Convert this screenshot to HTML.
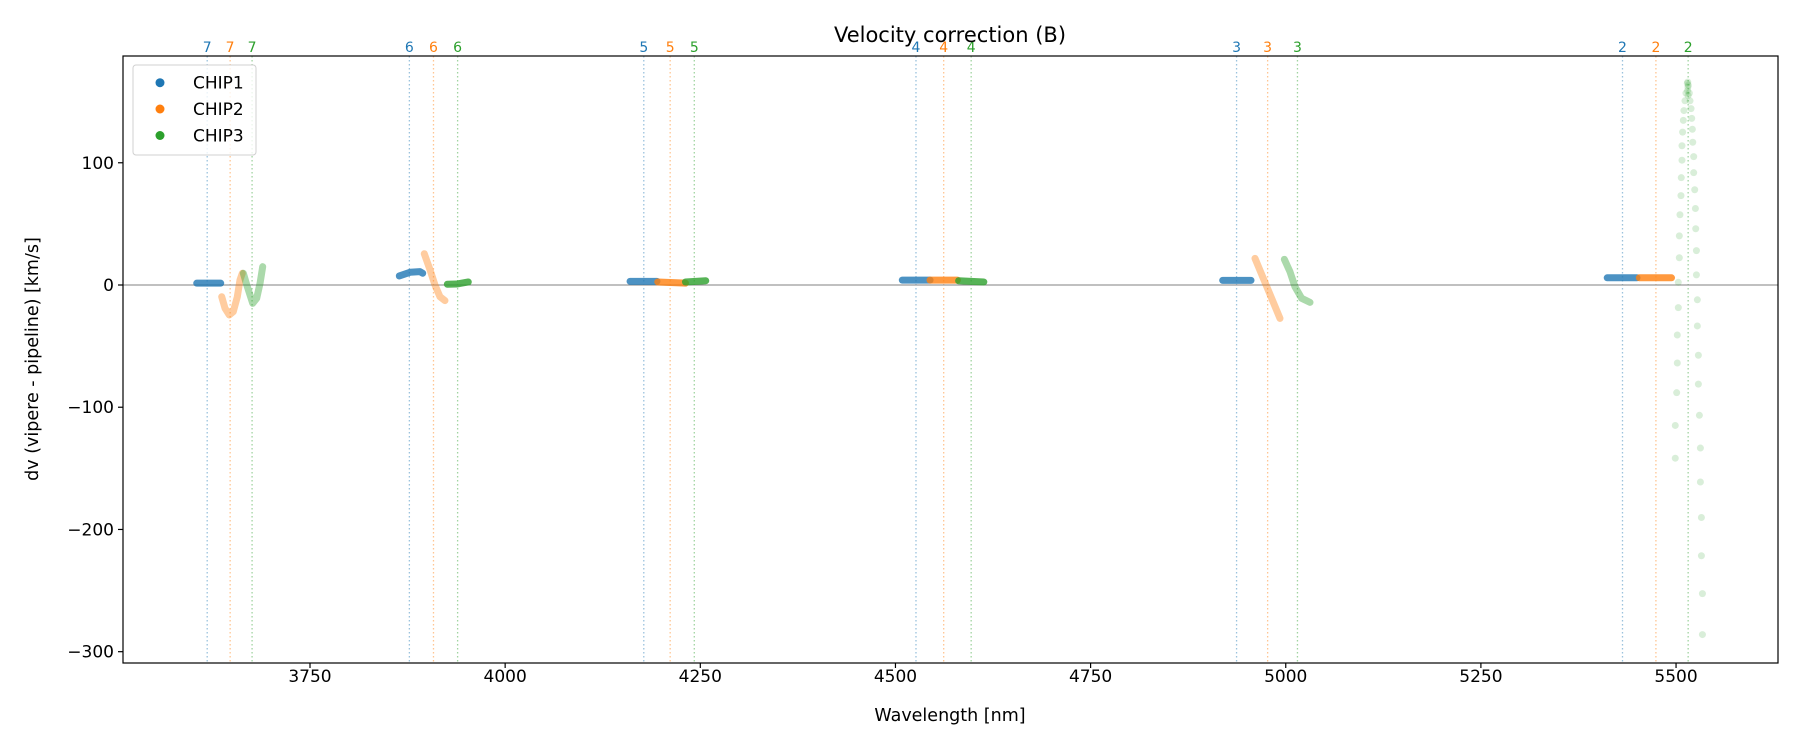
<!DOCTYPE html>
<html><head><meta charset="utf-8">
<style>
html,body{margin:0;padding:0;background:#fff;}
svg{display:block;font-family:"DejaVu Sans","Liberation Sans",sans-serif;}
</style></head>
<body>
<svg id="chart" width="1800" height="750" viewBox="0 0 1800 750">
</svg>
<script>
// ---- data ----
const xTicks = [3750, 4000, 4250, 4500, 4750, 5000, 5250, 5500];
const yTicks = [100, 0, -100, -200, -300];
const orderLabels = ["7","6","5","4","3","2"];
const chip1Lines = [3618.3, 3877.3, 4177.6, 4526.3, 4937.0, 5431.4];
const chip2Lines = [3647.7, 3908.2, 4211.4, 4561.8, 4976.8, 5474.2];
const chip3Lines = [3675.8, 3939.1, 4242.3, 4597.0, 5015.0, 5515.5];
// segments: each is [order, wavelengths[], dv[]]
const chip1Segments = [
  ["7", [3604.9, 3635.6], [1.5, 1.5]],
  ["6", [3864.4, 3878.1, 3890.9, 3894.4], [7.4, 10.4, 10.9, 9.6]],
  ["5", [4160, 4194.5], [3, 3]],
  ["4", [4508.8, 4544.3], [4, 4]],
  ["3", [4919.2, 4955.5], [3.8, 3.8]],
  ["2", [5411.8, 5450], [5.9, 5.9]]
];
const chip2Segments = [
  ["7", [3636.9, 3641.1, 3646.6, 3651.7, 3656.9, 3660.3, 3663.3], [-9.6, -19, -24.5, -21.8, -9.6, 4.1, 9.6]],
  ["6", [3896.4, 3903.7, 3910.1, 3916.5, 3922.9], [25.6, 12.5, 0, -9.6, -12.8]],
  ["5", [4195.5, 4231], [2.5, 1.5]],
  ["4", [4544.3, 4579.3], [4, 4]],
  ["3", [4960.6, 4992.6], [21.8, -27.3]],
  ["2", [5452.9, 5494.2], [5.9, 5.9]]
];
const chip3Segments = [
  ["7", [3664.6, 3669.7, 3676.6, 3681.7, 3686, 3689.4], [9.6, -1.4, -15, -10.9, 1.4, 15]],
  ["6", [3925.9, 3937.9, 3952.8], [0.6, 0.8, 2.5]],
  ["5", [4231, 4257], [2.5, 3.5]],
  ["4", [4580.9, 4613.2], [3.5, 2.5]],
  ["3", [4998.2, 5005.4, 5011.8, 5020.4, 5031.1], [21, 10.9, -1.4, -10.9, -14.2]]
];
// order 2, chip 3: scattered points
const chip3Order2Wl = [5514.4,5512.7,5511.4,5510.1,5509.3,5508.4,5507.6,5507.6,5506.7,5506.3,5505,5504.2,5504.2,5502.9,5502.9,5501.6,5501.6,5500.8,5499,5499,
  5515.7,5517,5517.9,5519.2,5520.1,5520.9,5521.4,5522.6,5522.6,5523.9,5524.8,5525.2,5526.1,5526.1,5527.3,5527.3,5528.6,5528.6,5529.9,5531.2,5531.2,5532.5,5532.5,5533.8,5533.8,
  5515.0,5515.2,5514.8,5515.4];
const chip3Order2Dv = [165,157,150.7,142.7,134.7,125.1,113.9,102.1,87.8,73.1,57.5,40.2,22.3,2.2,-18.5,-40.9,-63.8,-88.1,-114.9,-141.7,
  163.4,157,150.7,144.3,136.3,127.4,116.8,105,91.9,77.9,62.6,46,28.1,8.3,-12.1,-33.5,-57.5,-81.1,-106.6,-133.4,-161.2,-190.2,-221.5,-252.5,-286,
  166,162,159,155];

// ---- axes ----
const L=123, R=1778, T=56, B=663;
const X0w=3750, X0p=310, XS=0.7806;
const Y0p=285, YS=1.2223;
const xs = w => X0p + (w - X0w) * XS;
const ys = v => Y0p - v * YS;
const colors = ["#1f77b4","#ff7f0e","#2ca02c"];
const NS="http://www.w3.org/2000/svg";
const svg=document.getElementById('chart');
function mk(tag, attrs, parent){const e=document.createElementNS(NS,tag);for(const k in attrs)e.setAttribute(k,attrs[k]);(parent||svg).appendChild(e);return e;}

// order vertical lines + labels
const lineSets=[chip1Lines,chip2Lines,chip3Lines];
const gl=mk('g',{});


lineSets.forEach((arr,ci)=>{
  arr.forEach((w,i)=>{
    const ln=mk('line',{x1:xs(w),x2:xs(w),y1:T,y2:B,stroke:colors[ci],'stroke-opacity':0.45,'stroke-width':1.3,'stroke-dasharray':'1.5,2.5'},gl);
    
    
    const t=mk('text',{x:xs(w),y:52,'text-anchor':'middle','font-size':14,fill:colors[ci]},gl);
    t.textContent=orderLabels[i];
    
    
  });
});

// zero line
const zl=mk('line',{x1:L,x2:R,y1:ys(0),y2:ys(0),stroke:'#808080','stroke-width':1});



// series segments
const segSets=[chip1Segments,chip2Segments,chip3Segments];
segSets.forEach((segs,ci)=>{
  const g=mk('g',{});
  
  
  segs.forEach(s=>{
    const pts=s[1].map((w,i)=>xs(w)+','+ys(s[2][i])).join(' ');
    const vmin=Math.min(...s[2]), vmax=Math.max(...s[2]);
    const steep = (vmax-vmin)>8;
    const p=mk('polyline',{points:pts,fill:'none',stroke:colors[ci],'stroke-width':7,'stroke-linecap':'round','stroke-linejoin':'round','stroke-opacity':steep?0.4:0.8},g);
    
    
  });
});
const g2=mk('g',{});


chip3Order2Wl.forEach((w,i)=>{
  const c=mk('circle',{cx:xs(w),cy:ys(chip3Order2Dv[i]),r:3.5,fill:'#2ca02c','fill-opacity':0.18},g2);
  
  
});

// frame
const fr=mk('rect',{x:L,y:T,width:R-L,height:B-T,fill:'none',stroke:'#000','stroke-width':1.2});



// x ticks
const gx=mk('g',{});


xTicks.forEach(v=>{
  mk('line',{x1:xs(v),x2:xs(v),y1:B,y2:B+5,stroke:'#000','stroke-width':1.2},gx);
  const t=mk('text',{x:xs(v),y:B+19,'text-anchor':'middle','font-size':17,fill:'#000'},gx);
  t.textContent=v;
  
  
});
// y ticks
const gy=mk('g',{});


yTicks.forEach(v=>{
  mk('line',{x1:L-5,x2:L,y1:ys(v),y2:ys(v),stroke:'#000','stroke-width':1.2},gy);
  const t=mk('text',{x:L-9,y:ys(v)+6,'text-anchor':'end','font-size':17,fill:'#000'},gy);
  t.textContent=(v<0?'\u2212'+Math.abs(v):String(v));
  
  
});
</script>
<script>
(function(){
const NS="http://www.w3.org/2000/svg";
const svg=document.getElementById('chart');
function add(tag,attrs,txt){const e=document.createElementNS(NS,tag);for(const k in attrs)e.setAttribute(k,attrs[k]);if(txt)e.textContent=txt;svg.appendChild(e);return e;}
const title=add('text',{x:950,y:42,'text-anchor':'middle','font-size':21,fill:'#000'},'Velocity correction (B)');


const xl=add('text',{x:950,y:721,'text-anchor':'middle','font-size':17.5,fill:'#000'},'Wavelength [nm]');


const yl=add('text',{x:0,y:0,'text-anchor':'middle','font-size':17.5,fill:'#000',transform:'translate(38,359) rotate(-90)'},'dv (vipere - pipeline) [km/s]');


const lg=document.createElementNS(NS,'g');


svg.appendChild(lg);
const box=document.createElementNS(NS,'rect');
[['x',133],['y',65],['width',123],['height',90],['rx',3],['fill','#fff'],['fill-opacity',0.8],['stroke','#d0d0d0'],['stroke-width',1]].forEach(a=>box.setAttribute(a[0],a[1]));


lg.appendChild(box);
const names=['CHIP1','CHIP2','CHIP3'];const cols=['#1f77b4','#ff7f0e','#2ca02c'];const ly=[82.7,109,135.5];
names.forEach((n,i)=>{
  const c=document.createElementNS(NS,'circle');
  c.setAttribute('cx',160);c.setAttribute('cy',ly[i]);c.setAttribute('r',4.5);c.setAttribute('fill',cols[i]);
  
  
  lg.appendChild(c);
  const t=document.createElementNS(NS,'text');
  t.setAttribute('x',193);t.setAttribute('y',ly[i]+6);t.setAttribute('font-size',17);t.textContent=n;
  
  
  lg.appendChild(t);
});
})();
</script>
</body></html>
